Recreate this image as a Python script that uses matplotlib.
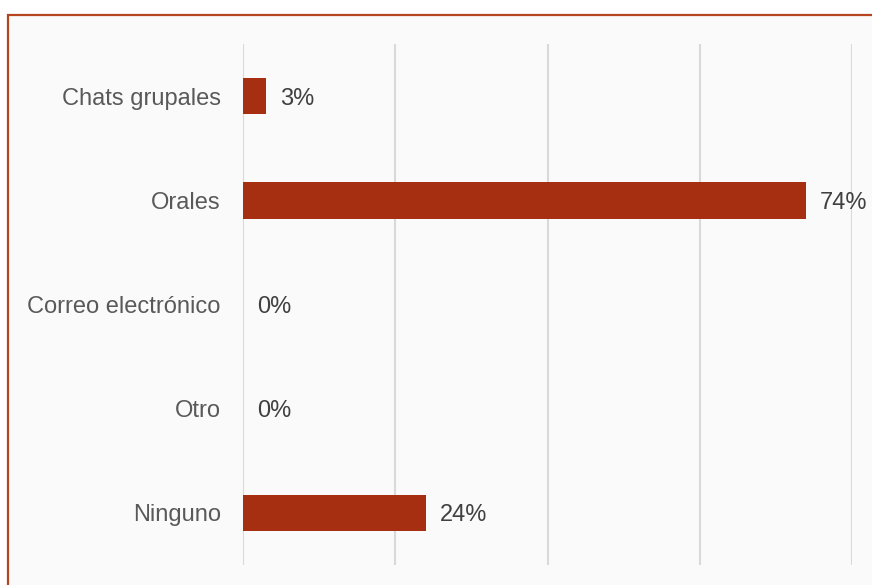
import matplotlib.pyplot as plt
from matplotlib.patches import Rectangle

categories = ["Chats grupales", "Orales", "Correo electrónico", "Otro", "Ninguno"]
shares = [0.03, 0.74, 0.00, 0.00, 0.24]
value_labels = ["3%", "74%", "0%", "0%", "24%"]

plt.rcParams["font.family"] = ["Liberation Sans", "DejaVu Sans"]

W, H = 872, 585
fig = plt.figure(figsize=(W / 100, H / 100), dpi=100)
fig.patch.set_facecolor("white")

# card background with a rust-coloured border (right/bottom edges run off the canvas)
card = Rectangle((7.5 / W, -0.1), 1.2, (H - 14.5) / H + 0.1, transform=fig.transFigure,
                 facecolor="#fafafa", edgecolor="#b5451f", linewidth=1.6, zorder=-5)
fig.add_artist(card)

ax = fig.add_axes([243 / W, 1 - 565 / H, (852 - 243) / W, (565 - 44) / H])
ax.set_facecolor("none")

y = list(range(len(categories)))
ax.barh(y, shares, height=0.35, color="#a52f10", linewidth=0, zorder=3)

for yi, v, lab in zip(y, shares, value_labels):
    ax.annotate(lab, (v, yi), xytext=(10, 0), textcoords="offset points",
                va="center_baseline", ha="left", fontsize=17, color="#404040", zorder=4)

ax.set_xlim(0, 0.8)
ax.set_ylim(len(categories) - 0.5, -0.5)
ax.set_xticks([0, 0.2, 0.4, 0.6, 0.8])
ax.set_xticklabels([])
ax.tick_params(axis="x", length=0)
ax.set_yticks(y)
ax.set_yticklabels(categories, fontsize=17, color="#595959")
ax.tick_params(axis="y", length=0, pad=16)
ax.grid(True, axis="x", color="#d9d9d9", linewidth=1.5, zorder=1)
for s in ax.spines.values():
    s.set_visible(False)

fig.savefig("out.png", dpi=100)
